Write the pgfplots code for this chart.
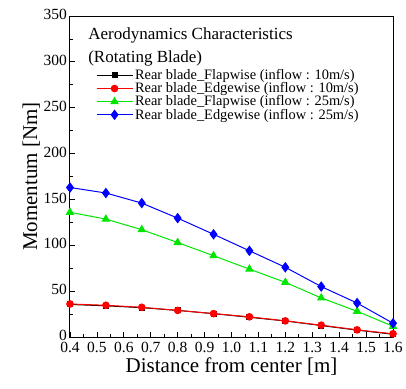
\documentclass[border=0pt]{standalone}
\usepackage{pgfplots}
\pgfplotsset{compat=1.18}
\usepackage{fontspec}
\setmainfont{Liberation Serif}
\usetikzlibrary{calc}
\definecolor{cgreen}{RGB}{0,230,0}
\begin{document}
\begin{tikzpicture}
\begin{axis}[
  scale only axis,
  width=323pt, height=321pt,
  xmin=0.4, xmax=1.6, ymin=0, ymax=350,
  xtick={0.4,0.5,...,1.6},
  xticklabels={0.4,0.5,0.6,0.7,0.8,0.9,1.0,1.1,1.2,1.3,1.4,1.5,1.6},
  ytick={0,50,...,350},
  minor x tick num=1, minor y tick num=1,
  tick align=inside,
  xtick pos=bottom, ytick pos=left,
  major tick length=5pt, minor tick length=3pt,
  axis line style={line width=1pt},
  tick style={line width=0.8pt, black},
  /pgf/number format/assume math mode=true,
  ticklabel style={font=\fontsize{15.5}{16}\selectfont},
  xticklabel style={yshift=-5pt, inner sep=0pt},
  yticklabel style={xshift=-2pt, yshift=1.5pt, inner sep=1pt},
  xlabel={Distance from center [m]},
  ylabel={Momentum [Nm]},
  label style={font=\fontsize{21}{22}\selectfont},
  xlabel style={yshift=-1pt},
  ylabel style={yshift=-1pt},
  legend cell align=left,
  legend style={draw=none, fill=none, at={(rel axis cs:0.08,0.84)}, anchor=north west,
    font=\fontsize{14.4}{15}\selectfont, inner sep=0pt, row sep=-2.5pt,
    nodes={inner sep=2pt}},
  legend image code/.code={\draw[mark repeat=2,mark phase=2,#1] plot coordinates {(0pt,0pt) (18pt,0pt) (36pt,0pt)};},
  every axis plot/.append style={line width=1pt},
]
\addplot[black, mark=square*, mark size=2.5pt] coordinates {
(0.4,35.5) (0.5333,34) (0.6667,32) (0.8,29) (0.9333,25.5) (1.0667,21.5) (1.2,17.5) (1.3333,12.5) (1.4667,7.5) (1.6,3)};
\addlegendentry{Rear blade\_Flapwise (inflow : 10m/s)}
\addplot[red, mark=*, mark size=3.3pt] coordinates {
(0.4,36) (0.5333,34.6) (0.6667,32.4) (0.8,29) (0.9333,25.5) (1.0667,22) (1.2,17.6) (1.3333,12.9) (1.4667,7.8) (1.6,3.5)};
\addlegendentry{Rear blade\_Edgewise (inflow : 10m/s)}
\addplot[cgreen, mark=triangle*, mark size=4pt] coordinates {
(0.4,136) (0.5333,128.5) (0.6667,117) (0.8,103) (0.9333,88.6) (1.0667,74) (1.2,59.6) (1.3333,42.6) (1.4667,28) (1.6,11.7)};
\addlegendentry{Rear blade\_Flapwise (inflow : 25m/s)}
\addplot[blue, mark=diamond*, mark size=4.5pt] coordinates {
(0.4,163) (0.5333,157) (0.6667,146) (0.8,129.6) (0.9333,112) (1.0667,94) (1.2,76) (1.3333,55) (1.4667,37) (1.6,15)};
\addlegendentry{Rear blade\_Edgewise (inflow : 25m/s)}
\node[anchor=north west, align=left, font=\fontsize{17}{23}\selectfont, inner sep=0pt] at (rel axis cs:0.056,0.965) {Aerodynamics Characteristics\\(Rotating Blade)};
\end{axis}
\useasboundingbox ($(current axis.south west)+(-70pt,-51pt)$) rectangle ($(current axis.north east)+(13pt,16pt)$);
\end{tikzpicture}
\end{document}
